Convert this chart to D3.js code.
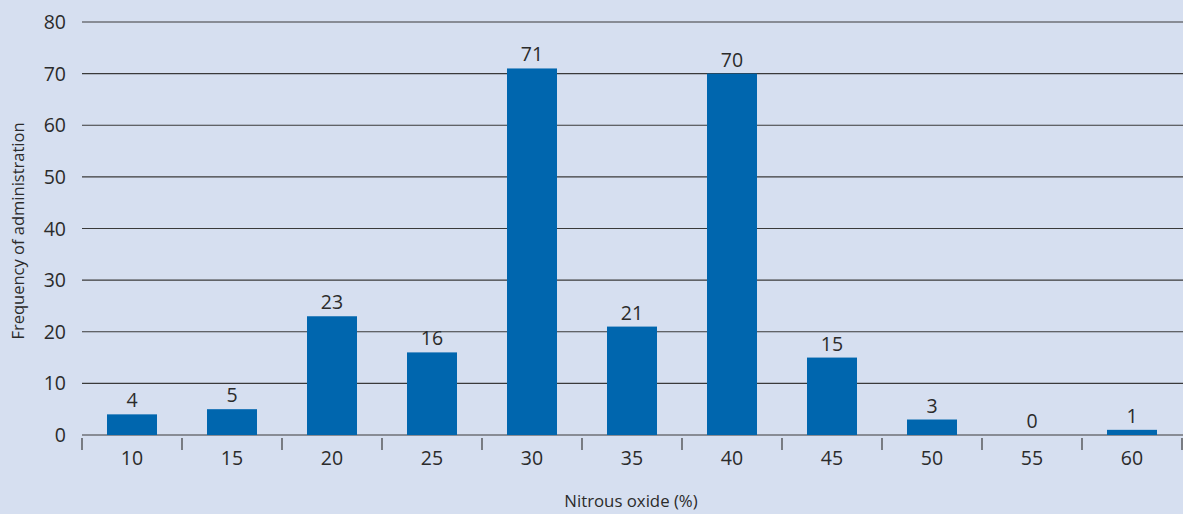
<!DOCTYPE html>
<html><head><meta charset="utf-8">
<script src="https://cdn.jsdelivr.net/npm/d3@7"></script>
<style>
html,body{margin:0;padding:0;background:#d6dff0;}
svg{display:block;}
text{font-family:"Open Sans",sans-serif;font-stretch:88%;font-weight:400;fill:#2b2b2b;}
text.title{font-stretch:100%;}
</style></head><body>
<svg id="c" width="1183" height="514"></svg>
<script>
const categories = ["10","15","20","25","30","35","40","45","50","55","60"];
const values = [4,5,23,16,71,21,70,15,3,0,1];
const yTicks = [0,10,20,30,40,50,60,70,80];
const xTitle = "Nitrous oxide (%)";
const yTitle = "Frequency of administration";

(function(){
const svg = d3.select("#c");
const W = 1183, H = 514;
svg.append("rect").attr("width",W).attr("height",H).attr("fill","#d6dff0");
const mL = 82, mR = 1182, mT = 22, mB = 435;
const x = d3.scaleBand().domain(categories).range([mL,mR]).paddingInner(0.5).paddingOuter(0.25);
const y = d3.scaleLinear().domain([0,80]).range([mB,mT]);

svg.append("g").selectAll("line").data(yTicks).join("line")
  .attr("x1",mL).attr("x2",W).attr("y1",d=>y(d)).attr("y2",d=>y(d))
  .attr("stroke","#3a3a3a").attr("stroke-width",1.2);

svg.append("g").selectAll("text").data(yTicks).join("text")
  .attr("x",66).attr("y",d=>y(d)).attr("dy","0.36em").attr("text-anchor","end")
  .attr("font-size",19.5).text(d=>d);

svg.append("g").selectAll("rect").data(values).join("rect")
  .attr("x",(d,i)=>x(categories[i])).attr("width",x.bandwidth())
  .attr("y",d=>y(d)).attr("height",d=>mB-y(d)).attr("fill","#0066ae");

svg.append("g").selectAll("text").data(values).join("text")
  .attr("x",(d,i)=>x(categories[i])+x.bandwidth()/2).attr("y",d=>y(d)-7)
  .attr("text-anchor","middle").attr("font-size",19.5).text(d=>d);

const step = x.step();
const bounds = d3.range(categories.length+1).map(i=>mL+i*step);
svg.append("g").selectAll("line").data(bounds).join("line")
  .attr("x1",d=>d).attr("x2",d=>d).attr("y1",mB+3).attr("y2",mB+15)
  .attr("stroke","#3a3a3a").attr("stroke-width",1.2);

svg.append("g").selectAll("text").data(categories).join("text")
  .attr("x",d=>x(d)+x.bandwidth()/2).attr("y",458).attr("dy","0.36em")
  .attr("text-anchor","middle").attr("font-size",19.5).text(d=>d);

svg.append("text").attr("class","title").attr("x",631).attr("y",501).attr("dy","0.35em").attr("text-anchor","middle")
  .attr("font-size",16.8).text(xTitle);
svg.append("text").attr("class","title").attr("transform","translate(18,231) rotate(-90)").attr("dy","0.35em")
  .attr("text-anchor","middle").attr("font-size",16.5).text(yTitle);
})();
</script>
</body></html>
